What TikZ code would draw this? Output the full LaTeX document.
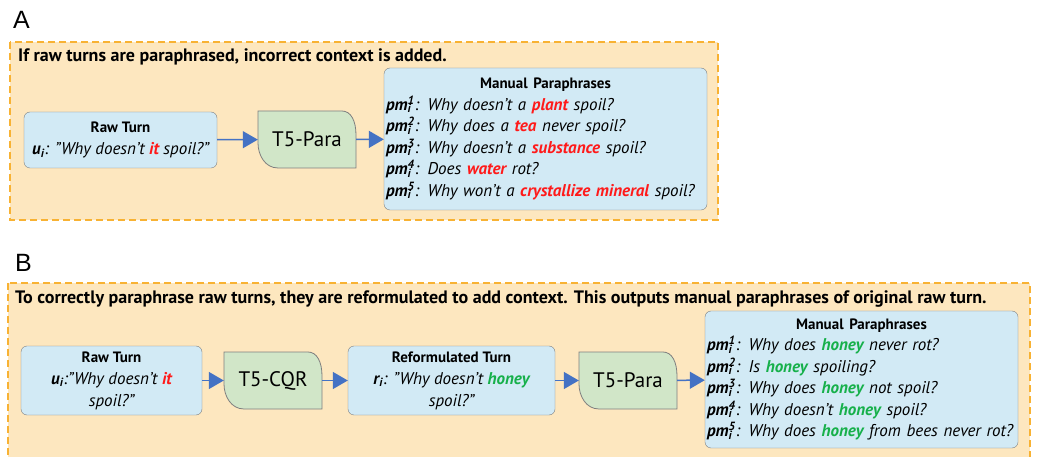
\documentclass[tikz,border=0pt]{standalone}
\usepackage{fontspec}
\setmainfont{PT Sans}
\newfontfamily\letterfont{Liberation Sans}
\usetikzlibrary{arrows.meta,positioning}

\definecolor{panelfill}{HTML}{FDE7BF}
\definecolor{panelline}{HTML}{F8B233}
\definecolor{boxblue}{HTML}{D2EAF5}
\definecolor{boxgreen}{HTML}{D1E6C8}
\definecolor{boxline}{HTML}{7F7F7F}
\definecolor{flowblue}{HTML}{4472C4}
\definecolor{wrongred}{HTML}{FF1A1A}
\definecolor{rightgreen}{HTML}{16B04A}

% highlighted words and paraphrase labels
\newcommand{\bad}[1]{\textbf{\color{wrongred}#1}}
\newcommand{\good}[1]{\textbf{\color{rightgreen}#1}}
\newcommand{\pmi}[1]{\textbf{pm\rlap{\textsubscript{i}}\textsuperscript{#1}}}
\newcommand{\boxtitle}[1]{{\upshape\bfseries\fontsize{15}{22}\selectfont #1}}

% green model box: #1 name, #2 left, #3 top, #4 label
\newcommand{\leafnode}[4]{%
  \filldraw[leaf] (#2,#3) -- (#2+84,#3)
    .. controls (#2+93,#3) and (#2+98,#3+10) .. (#2+98,#3+24)
    -- (#2+98,#3+57) -- (#2+20,#3+57)
    .. controls (#2+7,#3+57) and (#2,#3+44) .. (#2,#3+32) -- cycle;
  \node (#1) [proc] at (#2+49,#3+28.5) {#4};}

\begin{document}
\begin{tikzpicture}
[ x=1pt, y=-1pt
, panel/.style={draw=panelline, fill=panelfill, line width=1.3pt, dash pattern=on 7pt off 4pt}
, letter/.style={anchor=base west, inner sep=0pt, font=\letterfont\fontsize{25}{28}\selectfont}
, heading/.style={anchor=base west, inner sep=0pt, font=\fontsize{18}{20}\selectfont\bfseries}
, turn/.style={draw=boxline, fill=boxblue, rounded corners=6pt, align=center, inner sep=2pt, font=\fontsize{17}{22}\selectfont\itshape}
, paraphrases/.style={draw=boxline, fill=boxblue, rounded corners=6pt, inner sep=2pt, font=\fontsize{17}{21.5}\selectfont\itshape}
, leaf/.style={draw=boxline, fill=boxgreen, line width=0.8pt}
, proc/.style={minimum width=98pt, minimum height=57pt, inner sep=0pt, font=\fontsize{21}{24}\selectfont}
, flow/.style={draw=flowblue, line width=1.5pt, -{Triangle[length=15pt,width=17pt]}}
]
\useasboundingbox (0,0) rectangle (1037,457);

% Panel A
\draw [panel] (10,42) rectangle (718,220);
\node (labA) [letter] at (13,29) {A};
\node (headA) [heading] at (18,62) {If raw turns are paraphrased, incorrect context is added.};
\node (rawA) [turn, minimum width=193pt, minimum height=56pt] at (120.5,140)
  {\boxtitle{Raw Turn}\\ \textbf{u\textsubscript{i}}: "Why doesn't \bad{it} spoil?"};
\leafnode{paraA}{258}{111}{T5-Para}
\node (manA) [paraphrases, text width=319pt, minimum height=142pt] at (545.5,139)
  {\centering\boxtitle{Manual Paraphrases}\par\raggedright
   \pmi{1}: Why doesn't a \bad{plant} spoil?\\
   \pmi{2}: Why does a \bad{tea} never spoil?\\
   \pmi{3}: Why doesn't a \bad{substance} spoil?\\
   \pmi{4}: Does \bad{water} rot?\\
   \pmi{5}: Why won't a \bad{crystallize mineral} spoil?};
\draw [flow] (rawA) -- (paraA);
\draw [flow] (paraA) -- (manA);

% Panel B
\draw [panel] (8,283) rectangle (1030,470);
\node (labB) [letter] at (15,272) {B};
\node (headB) [heading] at (15,304) {To correctly paraphrase raw turns, they are reformulated to add context. This outputs manual paraphrases of original raw turn.};
\node (rawB) [turn, minimum width=181pt, minimum height=69pt] at (111.5,380.5)
  {\boxtitle{Raw Turn}\\ \textbf{u\textsubscript{i}}:"Why doesn't \bad{it}\\ spoil?"};
\leafnode{cqr}{224}{352}{T5-CQR}
\node (reform) [turn, minimum width=207pt, minimum height=69pt] at (451.5,380.5)
  {\boxtitle{Reformulated Turn}\\ \textbf{r\textsubscript{i}}: "Why doesn't \good{honey}\\ spoil?"};
\leafnode{paraB}{579}{352}{T5-Para}
\node (manB) [paraphrases, text width=309pt, minimum height=137pt] at (861.5,379.5)
  {\centering\boxtitle{Manual Paraphrases}\par\raggedright
   \pmi{1}: Why does \good{honey} never rot?\\
   \pmi{2}: Is \good{honey} spoiling?\\
   \pmi{3}: Why does \good{honey} not spoil?\\
   \pmi{4}: Why doesn't \good{honey} spoil?\\
   \pmi{5}: Why does \good{honey} from bees never rot?};
\draw [flow] (rawB) -- (cqr);
\draw [flow] (cqr) -- (reform);
\draw [flow] (reform) -- (paraB);
\draw [flow] (paraB) -- (manB);
\end{tikzpicture}
\end{document}
